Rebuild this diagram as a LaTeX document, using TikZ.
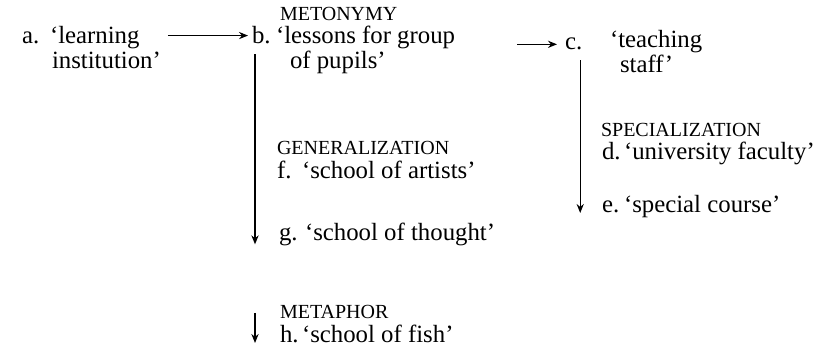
\documentclass[tikz,border=0pt]{standalone}
\usepackage{fontspec}
\setmainfont{Liberation Serif}
\usetikzlibrary{arrows.meta, positioning}

\begin{document}
\begin{tikzpicture}[
    x=0.5pt, y=-0.5pt,
    >={Stealth[length=4.5pt, width=3.6pt]},
    every node/.style={inner sep=0pt, outer sep=0pt, anchor=base west},
    item/.style={font=\fontsize{12.4}{12.5}\selectfont, align=left},
    tag/.style={font=\fontsize{10}{10}\selectfont},
    conn/.style={->, line width=0.6pt}
]
\useasboundingbox (0,0) rectangle (823,351);

% -------------------------
% SENSES (two-line texts sit on their last line)
% -------------------------
\node[item] (la) at (22,44) {a.};
\node[item] (ta) at (50,69) {`learning\\\hspace{1pt}institution'};

\node[tag] (metonymy) at (280,21) {METONYMY};
\node[item] (lb) at (252,44) {b.};
\node[item] (tb) at (276,69) {`lessons for group\\\hspace{7pt}of pupils'};

\node[item] (lc) at (565,50) {c.};
\node[item] (tc) at (610,73) {`teaching\\\hspace{5pt}staff'};

\node[tag] (special) at (601,137) {SPECIALIZATION};
\node[item] (ld) at (602,160) {d.};
\node[item] (td) at (624,160) {`university faculty'};
\node[item] (le) at (602,213) {e.};
\node[item] (te) at (624,213) {`special course'};

\node[tag] (general) at (277,155) {GENERALIZATION};
\node[item] (lf) at (277,179) {f.};
\node[item] (tf) at (302,179) {`school of artists'};
\node[item] (lg) at (279,241) {g.};
\node[item] (tg) at (305,241) {`school of thought'};

\node[tag] (metaphor) at (280,319) {METAPHOR};
\node[item] (lh) at (280,343) {h.};
\node[item] (th) at (302,343) {`school of fish'};

% -------------------------
% SHIFTS
% -------------------------
\coordinate (bdown) at ([xshift=1.5pt]lb.south west);
\coordinate (cdown) at ([xshift=-1pt]lc.south east);

\draw[conn, shorten <=3.5pt, shorten >=2pt] (ta.east |- lb.west) -- (lb.west);
\draw[conn, shorten <=31pt, shorten >=4pt] (tb.east |- lc.west) -- (lc.west);

\draw[conn, shorten <=5pt, shorten >=1pt] (bdown) -- (bdown |- lg.south);
\draw[conn, shorten <=5pt] (cdown) -- (cdown |- le.base);
\draw[conn, shorten <=3.5pt] (bdown |- metaphor.north) -- (bdown |- lh.base);

\end{tikzpicture}
\end{document}
